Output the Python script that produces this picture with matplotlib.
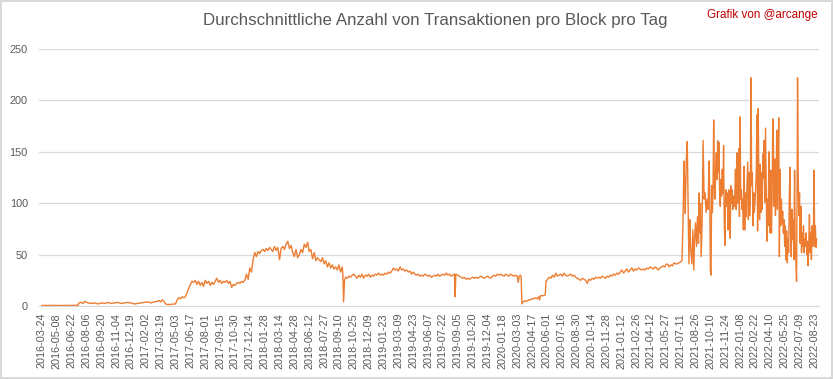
"""Average number of transactions per block per day (2016-2022)."""

import matplotlib

matplotlib.use("Agg")
import matplotlib.pyplot as plt
import numpy as np

TITLE = "Durchschnittliche Anzahl von Transaktionen pro Block pro Tag"
CREDIT = "Grafik von @arcange"
LINE_COLOR = "#ED7D31"
TEXT_COLOR = "#595959"
GRID_COLOR = "#D9D9D9"

# x values are day numbers counted from 2016-03-24 (category position on the axis)
ramp_days = [
    0, 30, 60, 90, 110, 112, 120, 125, 130, 140, 150, 160, 170, 180, 190, 200, 210, 220, 230,
    240, 250, 260, 270, 280, 290, 300, 310, 320, 330, 340, 350, 355, 360, 365, 370, 375, 380,
    390, 400, 405, 410, 415, 420, 425, 430, 435, 440, 445, 450, 455, 460, 465, 470, 475, 480,
    485, 490, 495, 500, 505, 510, 515, 520, 525, 530, 535, 540, 545, 550, 555, 560, 565, 570,
    575, 580, 585, 590, 595, 600, 605, 610, 615, 620, 625, 630, 635, 640, 645, 650, 655, 660,
    665, 670, 675, 680, 685, 690, 695, 700, 705, 710, 715, 720, 725, 730, 735, 740, 745, 750,
    755, 760, 765, 770, 775, 780, 785, 790, 795, 800, 805, 810, 815, 820, 825, 830, 835, 840,
    845, 850, 855, 860, 865, 870, 875, 880, 885, 890, 895, 900, 905, 910, 912,
]
ramp_values = [
    0.5, 0.6, 0.5, 0.6, 0.7, 3.0, 3.5, 2.5, 4.5, 3, 2.5, 3, 2, 3, 2.5, 3.5, 2.5, 3, 3.5,
    2.5, 3, 3.5, 3, 2, 2.5, 3, 3.5, 4, 3, 4, 4.5, 5.5, 4, 6, 4.5, 2, 1.5,
    1.5, 2, 2, 6, 8, 7, 9, 8, 9, 13, 17, 21, 24, 23, 25, 21, 24, 20,
    23, 19, 25, 22, 24, 20, 23, 21, 24, 27, 23, 25, 22, 24, 23, 25, 22, 24,
    18, 21, 20, 22, 23, 22, 24, 23, 25, 31, 26, 37, 33, 45, 52, 48, 53, 51,
    54, 55, 53, 56, 54, 57, 55, 53, 58, 54, 57, 45, 56, 58, 55, 60, 63, 56,
    59, 52, 48, 55, 47, 50, 55, 52, 60, 57, 62, 53, 55, 46, 52, 44, 47, 45,
    43, 47, 41, 44, 38, 42, 37, 40, 36, 38, 35, 40, 33, 38, 30,
]

plateau_days = [
    914, 917, 920, 925, 930, 935, 940, 945, 950, 955, 960, 965, 970, 975, 980, 985, 990, 995,
    1000, 1005, 1010, 1015, 1020, 1025, 1030, 1035, 1040, 1045, 1050, 1055, 1060, 1065, 1070,
    1075, 1080, 1085, 1090, 1095, 1100, 1105, 1110, 1115, 1120, 1125, 1130, 1135, 1140, 1145,
    1150, 1155, 1160, 1165, 1170, 1175, 1180, 1185, 1190, 1195, 1200, 1205, 1210, 1215, 1220,
    1225, 1230, 1235, 1240, 1245, 1250, 1252, 1254, 1260, 1265, 1270, 1275, 1280, 1285, 1290,
    1295, 1300, 1305, 1310, 1315, 1320, 1325, 1330, 1335, 1340, 1345, 1350, 1355, 1360, 1365,
    1370, 1375, 1380, 1385, 1390, 1395, 1400, 1405, 1410, 1415, 1420, 1425, 1430, 1435, 1440,
    1443, 1446, 1450, 1452, 1454, 1458, 1462, 1466, 1470, 1475, 1480, 1485, 1490, 1495, 1500,
    1505, 1508, 1510, 1515, 1520, 1525, 1527, 1532, 1537, 1542, 1547, 1552, 1557, 1562, 1567,
    1572, 1577, 1582, 1587, 1592, 1597, 1602, 1607, 1612, 1617, 1622, 1627, 1632, 1637, 1642,
    1647, 1652, 1657, 1662, 1667, 1672, 1677, 1682, 1687, 1692, 1697, 1702, 1707, 1712, 1717,
    1722, 1727, 1732, 1737, 1742, 1747, 1752, 1757, 1762, 1767, 1772, 1777, 1782, 1787, 1792,
    1797, 1802, 1807, 1812, 1817, 1822, 1827, 1832, 1837, 1842, 1847, 1852, 1857, 1862, 1867,
    1872, 1877, 1882, 1887, 1892, 1897, 1900, 1905, 1910, 1915, 1920, 1925, 1930, 1935, 1939,
]
plateau_values = [
    4, 25, 28, 27, 29, 28, 30, 31, 29, 27, 30, 28, 31, 27, 30, 29, 31, 28,
    30, 29, 31, 30, 32, 30, 31, 30, 32, 31, 33, 32, 34, 37, 35,
    36, 34, 38, 35, 36, 34, 35, 33, 34, 31, 33, 31, 30, 31, 29,
    30, 29, 31, 30, 29, 30, 28, 29, 30, 29, 31, 29, 30, 31, 30,
    32, 30, 31, 29, 30, 31, 9, 31, 30, 29, 28, 27, 28, 26, 27,
    26, 27, 28, 27, 28, 27, 28, 29, 28, 27, 28, 29, 28, 27, 29,
    30, 29, 31, 30, 31, 30, 29, 31, 30, 29, 31, 30, 29, 30, 29,
    23, 29, 30, 28, 2, 4, 5, 4.5, 5, 6, 6, 7, 7, 8, 7,
    9, 6, 10, 10, 10, 11, 24, 26, 28, 27, 30, 28, 32, 29, 30,
    31, 29, 32, 30, 29, 30, 31, 29, 30, 28, 27, 26, 25, 27, 26,
    25, 22, 26, 25, 27, 26, 28, 27, 28, 27, 29, 28, 27, 29, 28,
    30, 29, 31, 30, 32, 31, 33, 35, 32, 34, 36, 33, 35, 37, 34,
    36, 35, 37, 36, 35, 36, 35, 37, 36, 38, 37, 36, 38, 37, 35,
    37, 38, 39, 38, 41, 40, 38, 40, 39, 42, 41, 41, 42, 43, 44,
]

surge_days = [
    1942, 1945, 1947, 1949, 1952, 1955, 1957, 1960, 1963, 1965, 1969, 1972, 1975, 1977, 1980,
    1983, 1986, 1989, 1991, 1993, 1995, 1997, 2000, 2003, 2006, 2009, 2012, 2015, 2018, 2021,
    2023, 2025, 2027, 2029, 2031, 2033, 2035, 2037, 2039, 2041, 2043, 2045, 2047, 2049, 2051,
    2053, 2055, 2057, 2059, 2061, 2063, 2065, 2067, 2069, 2071, 2073, 2075, 2077, 2079, 2081,
    2083, 2085, 2087, 2089, 2091, 2093, 2095, 2097, 2099, 2101, 2103, 2105, 2107, 2109, 2111,
    2113, 2115, 2117, 2119, 2121, 2123, 2125, 2127, 2129, 2131, 2133, 2135,
    2138, 2140, 2142, 2144, 2146, 2148, 2150, 2152, 2154, 2156, 2158, 2160, 2162, 2164, 2166,
    2168, 2170, 2172, 2174, 2176, 2178, 2180, 2182, 2184, 2186, 2188, 2190, 2192, 2194, 2196,
    2198, 2200, 2202, 2204, 2206, 2208, 2210, 2212, 2214, 2216, 2218, 2220, 2222, 2224, 2226,
    2228, 2230, 2232, 2234, 2236, 2238, 2240, 2242, 2244, 2246, 2248, 2250, 2252, 2254, 2256,
    2258, 2260, 2262, 2264, 2266, 2268, 2270, 2272, 2274, 2276, 2278, 2280, 2282, 2284, 2286,
    2288, 2289, 2291, 2293, 2295, 2297, 2299, 2301, 2303, 2305, 2307, 2309, 2311, 2313, 2315,
    2317, 2319, 2321, 2323, 2325, 2327, 2329, 2331, 2333, 2335, 2337, 2339, 2341, 2343, 2345,
    2347,
]
surge_values = [
    81, 141, 120, 90, 141, 160, 113, 41, 84, 58, 41, 74, 35, 64, 81,
    58, 87, 61, 110, 71, 100, 48, 81, 161, 104, 110, 91, 104, 94, 141,
    113, 35, 30, 117, 91, 110, 181, 120, 104, 133, 149, 123, 161, 130, 159,
    110, 97, 123, 107, 133, 110, 156, 81, 59, 107, 113, 97, 110, 74, 113,
    104, 66, 117, 100, 113, 94, 107, 97, 107, 133, 94, 149, 100, 104, 153,
    87, 184, 104, 113, 94, 104, 74, 136, 74, 110, 87, 107,
    140, 84, 130, 88, 110, 222, 117, 130, 78, 110, 91, 101, 114, 130, 186,
    73, 192, 110, 84, 138, 91, 130, 94, 148, 124, 161, 101, 173, 117, 63,
    104, 78, 150, 104, 71, 132, 71, 110, 182, 153, 97, 143, 88, 117, 171,
    94, 143, 183, 48, 133, 78, 104, 81, 92, 71, 84, 58, 78, 45, 73,
    42, 65, 52, 104, 135, 71, 48, 94, 65, 84, 45, 132, 58, 45, 24,
    133, 222, 127, 88, 110, 61, 97, 52, 71, 58, 78, 52, 65, 58, 71,
    50, 63, 39, 61, 89, 52, 71, 45, 78, 58, 71, 132, 58, 78, 57,
    65,
]

tick_labels = [
    "2016-03-24", "2016-05-08", "2016-06-22", "2016-08-06", "2016-09-20", "2016-11-04",
    "2016-12-19", "2017-02-02", "2017-03-19", "2017-05-03", "2017-06-17", "2017-08-01",
    "2017-09-15", "2017-10-30", "2017-12-14", "2018-01-28", "2018-03-14", "2018-04-28",
    "2018-06-12", "2018-07-27", "2018-09-10", "2018-10-25", "2018-12-09", "2019-01-23",
    "2019-03-09", "2019-04-23", "2019-06-07", "2019-07-22", "2019-09-05", "2019-10-20",
    "2019-12-04", "2020-01-18", "2020-03-03", "2020-04-17", "2020-06-01", "2020-07-16",
    "2020-08-30", "2020-10-14", "2020-11-28", "2021-01-12", "2021-02-26", "2021-04-12",
    "2021-05-27", "2021-07-11", "2021-08-26", "2021-10-10", "2021-11-24", "2022-01-08",
    "2022-02-22", "2022-04-10", "2022-05-25", "2022-07-09", "2022-08-23",
]
LABEL_STEP = 45
y_ticks = [0, 50, 100, 150, 200, 250]


def main() -> None:
    plt.rcParams["font.family"] = ["Liberation Sans", "DejaVu Sans"]
    days = np.array(ramp_days + plateau_days + surge_days)
    values = np.array(ramp_values + plateau_values + surge_values)

    fig = plt.figure(figsize=(8.33, 3.79), dpi=100)
    fig.patch.set_edgecolor(GRID_COLOR)
    fig.patch.set_linewidth(1.5)
    ax = fig.add_axes([0.0468, 0.1926, 0.9364, 0.6781])

    ax.plot(days, values, color=LINE_COLOR, linewidth=1.0)

    ax.set_ylim(0, 250)
    ax.set_xlim(-8.5, 2354)
    ax.set_yticks(y_ticks)
    ax.set_xticks([i * LABEL_STEP for i in range(len(tick_labels))])
    ax.set_xticklabels(tick_labels, rotation=90)
    ax.tick_params(axis="both", length=0, colors=TEXT_COLOR, labelsize=7.8)
    ax.tick_params(axis="y", pad=8, labelsize=7.8)
    ax.tick_params(axis="x", pad=5)
    ax.grid(axis="y", color=GRID_COLOR, linewidth=0.9)
    ax.set_axisbelow(True)
    for side in ["top", "right", "left"]:
        ax.spines[side].set_visible(False)
    ax.spines["bottom"].set_color(GRID_COLOR)

    fig.text(0.523, 0.945, TITLE, ha="center", va="center", fontsize=12.2, color=TEXT_COLOR)
    fig.text(0.982, 0.961, CREDIT, ha="right", va="center", fontsize=8.4, color="#C00000")

    fig.savefig("out.png", dpi=100)
    plt.close(fig)


if __name__ == "__main__":
    main()
